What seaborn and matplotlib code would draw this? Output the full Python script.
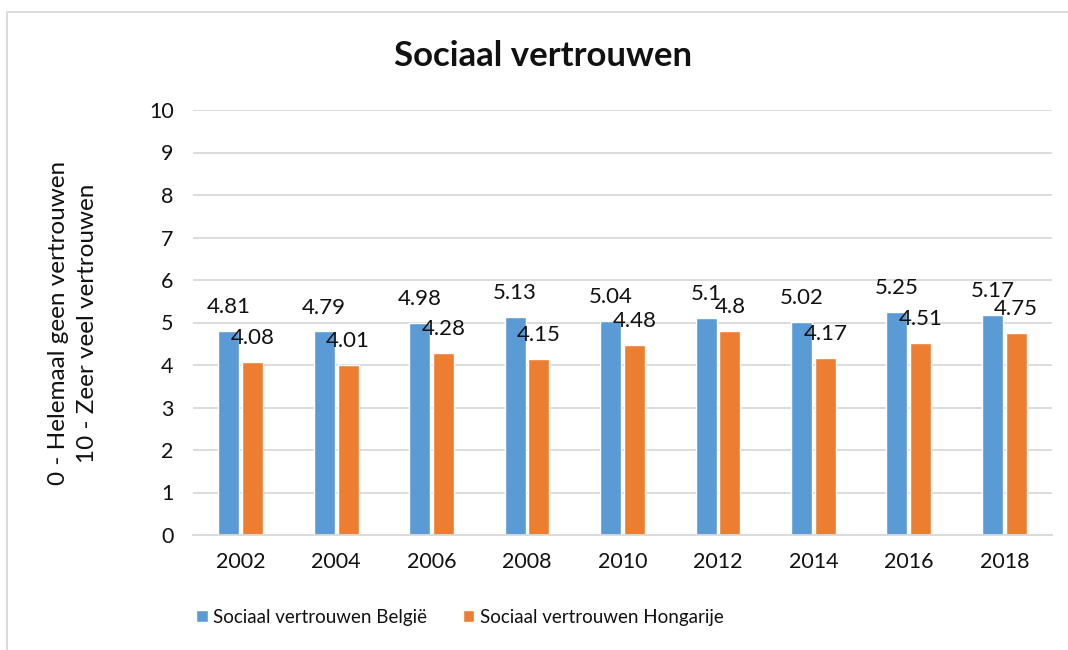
import matplotlib
matplotlib.use('Agg')
import matplotlib.pyplot as plt
import seaborn as sns
import pandas as pd
from matplotlib.patches import Rectangle

years = ['2002', '2004', '2006', '2008', '2010', '2012', '2014', '2016', '2018']
belgie = [4.81, 4.79, 4.98, 5.13, 5.04, 5.1, 5.02, 5.25, 5.17]
hongarije = [4.08, 4.01, 4.28, 4.15, 4.48, 4.8, 4.17, 4.51, 4.75]
series = ['Sociaal vertrouwen België', 'Sociaal vertrouwen Hongarije']
colors = ['#5B9BD5', '#ED7D31']

df = pd.DataFrame({
    'Jaar': years * 2,
    'Waarde': belgie + hongarije,
    'Reeks': [series[0]] * len(years) + [series[1]] * len(years),
})

sns.set_theme(style='white')
plt.rcParams['font.family'] = ['Lato', 'DejaVu Sans']

W, H = 1068, 650
fig = plt.figure(figsize=(W / 100, H / 100), dpi=100)
ax = fig.add_axes([193 / W, 1 - 535 / H, (1052 - 193) / W, (535 - 110) / H])

sns.barplot(data=df, x='Jaar', y='Waarde', hue='Reeks', palette=colors,
            width=0.5, gap=0.12, saturation=1, ax=ax, legend=True)

# data labels above each bar
for cont, vals in zip(ax.containers, [belgie, hongarije]):
    ax.bar_label(cont, labels=[f'{v:g}' for v in vals], padding=10,
                 fontsize=16, color='#111111')

ax.set_ylim(0, 10)
ax.set_yticks(range(0, 11))
ax.yaxis.grid(True, color='#D9D9D9', linewidth=1.3)
ax.set_axisbelow(True)
for s in ['top', 'right', 'left']:
    ax.spines[s].set_visible(False)
ax.spines['bottom'].set_color('#D9D9D9')
ax.spines['bottom'].set_linewidth(1.3)
ax.tick_params(axis='both', length=0, labelsize=15.5, colors='#111111')
ax.tick_params(axis='y', pad=14)
ax.tick_params(axis='x', pad=12)
ax.set_xlabel('')
ax.set_ylabel('')

# two-line y label
fig.text(59 / W, 1 - 323 / H, '0 - Helemaal geen vertrouwen', rotation=90,
         ha='center', va='center', fontsize=17.5, color='#111111')
fig.text(88 / W, 1 - 323 / H, '10 - Zeer veel vertrouwen', rotation=90,
         ha='center', va='center', fontsize=17.5, color='#111111')

fig.text(543 / W, 1 - 56 / H, 'Sociaal vertrouwen', ha='center', va='center',
         fontsize=25, fontweight='bold', color='#111111')

handles, labels = ax.get_legend_handles_labels()
ax.get_legend().remove()
fig.legend(handles, labels, loc='center', bbox_to_anchor=(460 / W, 1 - 617 / H),
           ncol=2, frameon=False, fontsize=13.5, handlelength=0.6, handleheight=0.6,
           handletextpad=0.3, columnspacing=1.9, labelcolor='#111111')

# chart border
fig.patches.append(Rectangle((7 / W, -0.1), 1.2, 1 - 12 / H + 0.1, transform=fig.transFigure,
                             fill=False, edgecolor='#D9D9D9', linewidth=1.3))

fig.savefig('out.png', dpi=100, facecolor='white')
plt.close(fig)
